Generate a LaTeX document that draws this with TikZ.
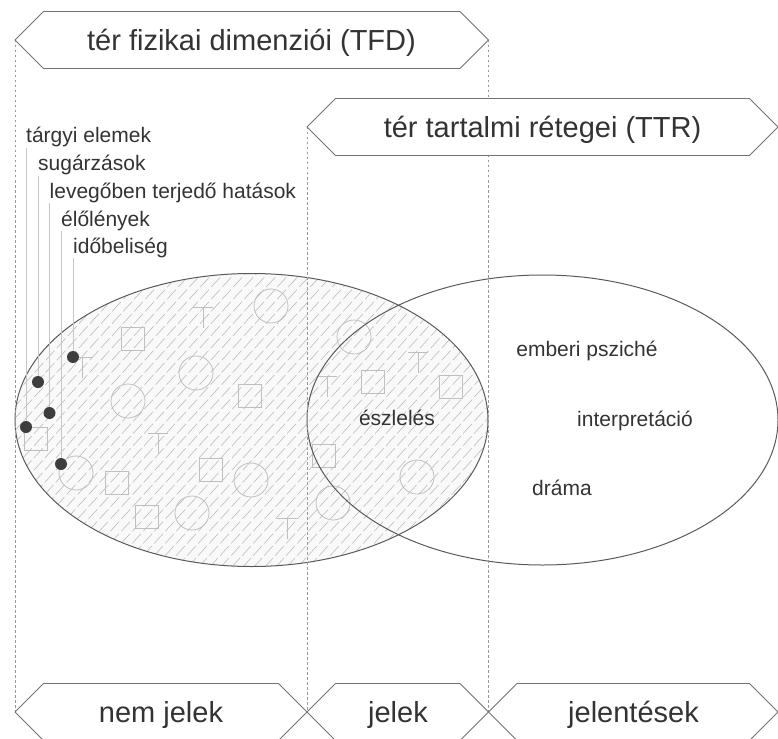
\documentclass[tikz,border=0pt]{standalone}
\usepackage{fontspec}
\setmainfont{Liberation Sans}
\usepackage{tikz}
\usetikzlibrary{calc}
\definecolor{ink}{HTML}{333333}
\definecolor{rim}{HTML}{5A5A5A}
\tikzset{banner/.style={draw=rim!85, line width=.9pt, fill=white}}
\tikzset{headline/.style={text=ink, inner sep=0pt, anchor=base, font=\fontsize{29}{34}\selectfont}}
\tikzset{tag/.style={text=ink, inner sep=0pt, font=\fontsize{21}{25}\selectfont}}
\tikzset{guide/.style={draw=gray!80, line width=.7pt, dash pattern=on 2.5pt off 2.5pt}}
\tikzset{hatch/.style={draw=gray!55, line width=.55pt, dash pattern=on 13pt off 3.5pt}}
\tikzset{faint/.style={draw=gray!50, line width=.8pt}}
\tikzset{dot/.style={circle, fill=ink!95, inner sep=0pt, minimum size=12pt}}
\tikzset{leader/.style={draw=gray!45, line width=.8pt}}

\begin{document}
\begin{tikzpicture}[x=1pt,y=-1pt]
  \useasboundingbox (0,0) rectangle (778,738);
  % hatched field of the physical dimensions
  \begin{scope}
    \clip (251.5,420) ellipse [x radius=236.5pt, y radius=146.5pt];
    \fill[gray!5] (0,260) rectangle (500,580);
    \foreach \a in {-330,-319,...,500} {
      \draw[hatch] (\a,580) -- ++(300,-330);
    }
  \end{scope}
  % small shapes
  \foreach \x/\y in {
    133/339, 250/396, 36/439, 117/483, 211/470,
    147/517, 373/382, 451/387, 324/456%
  } {
    \draw[faint] (\x-11.5,\y-11.5) rectangle ++(23,23);
  }
  \foreach \x/\y in {
    271/306, 128/401, 196/373, 76/473, 251/480,
    192/513, 354/337, 417/477, 333/503%
  } {
    \draw[faint] (\x,\y) circle [radius=17pt];
  }
  \foreach \x/\y in {
    203/307, 82/357, 158/433, 287/518, 418/352, 327/376%
  } {
    \draw[faint] (\x-10,\y) -- (\x+10,\y) (\x,\y) -- (\x,\y+21);
  }
  % the two fields
  \draw[rim, line width=1pt] (251.5,420) ellipse [x radius=236.5pt, y radius=146.5pt];
  \draw[rim, line width=1pt] (542.5,420) ellipse [x radius=235.5pt, y radius=145pt];
  % guides
  \foreach \x/\ya in {15/40, 307/127, 488.5/40} {
    \draw[guide] (\x,\ya) -- (\x,712);
  }
  % banners
  \foreach \xa/\xb/\yc in {
    15/488.5/40,
    307/778/127,
    15/307/712,
    307/488.5/712,
    488.5/778/712%
  } {
    \draw[banner] (\xa,\yc) -- (\xa+28.5,\yc-28.5) -- (\xb-28.5,\yc-28.5)
      -- (\xb,\yc) -- (\xb-28.5,\yc+28.5) -- (\xa+28.5,\yc+28.5) -- cycle;
  }
  \node[headline] (tfd) at (251.5,51) {tér fizikai dimenziói (TFD)};
  \node[headline] (ttr) at (542.5,138) {tér tartalmi rétegei (TTR)};
  \node[headline] (nemjelek) at (161,722.5) {nem jelek};
  \node[headline] (jelek) at (398,722.5) {jelek};
  \node[headline] (jelentesek) at (633.5,722.5) {jelentések};
  % labelled elements
  \foreach \lab/\x/\yb/\yd/\txt in {
    targy/26/143/427/tárgyi elemek,
    sugar/38/171/382/sugárzások,
    levego/49.5/198/413/levegőben terjedő hatások,
    elo/61/226/464/élőlények,
    ido/73/253/357/időbeliség%
  } {
    \node[tag, anchor=base west] (\lab) at (\x,\yb) {\txt};
    \node[dot] (d-\lab) at (\x,\yd) {};
    \draw[leader] (d-\lab) -- (d-\lab |- \lab.south);
  }
  \node[tag, anchor=base] (eszleles) at (397,425) {észlelés};
  \node[tag, anchor=base] (psziche) at (587,356) {emberi psziché};
  \node[tag, anchor=base] (interp) at (635,426) {interpretáció};
  \node[tag, anchor=base] (drama) at (562,495) {dráma};
\end{tikzpicture}
\end{document}
